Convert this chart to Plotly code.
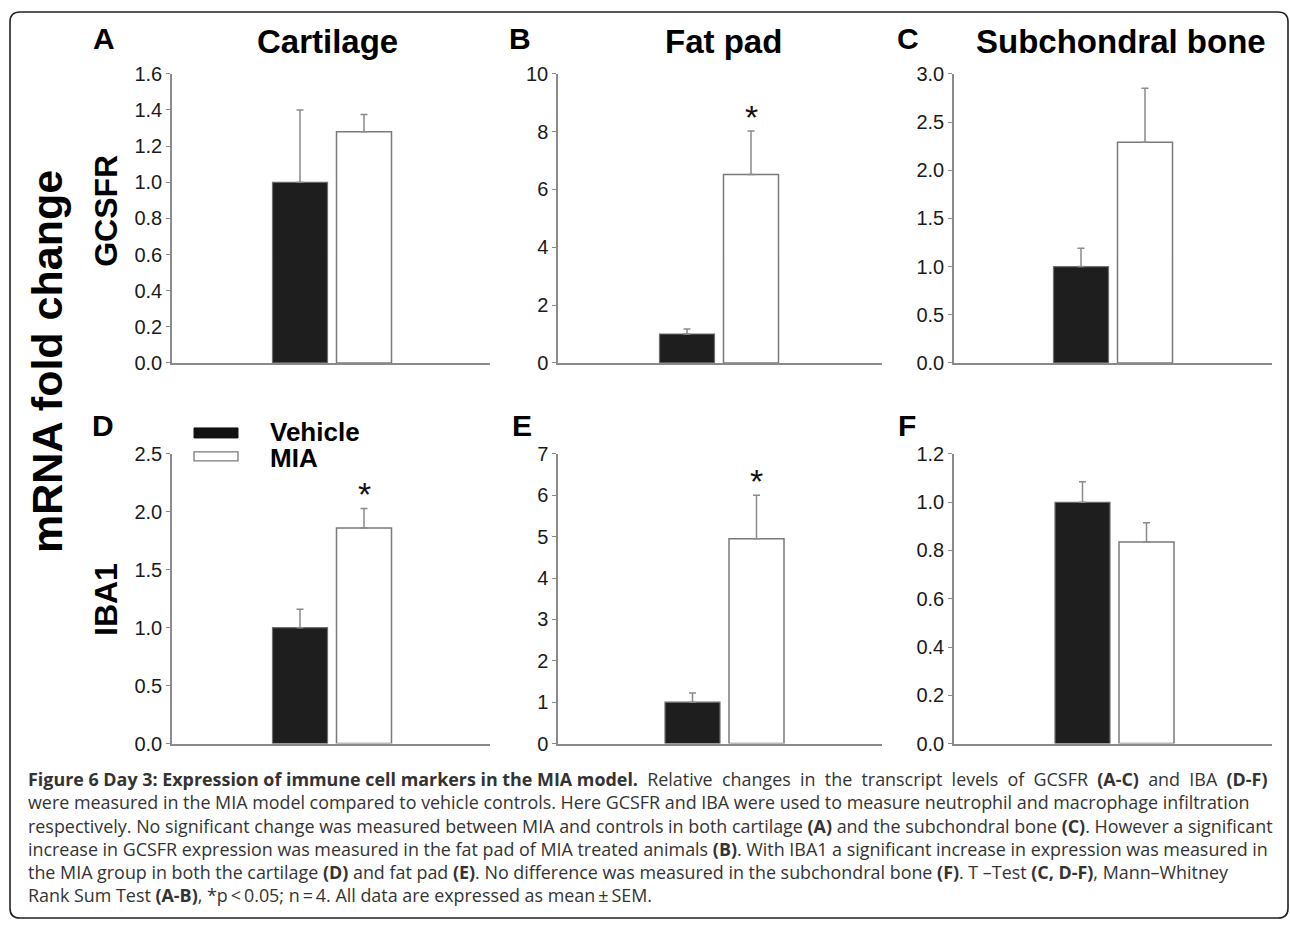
import plotly.graph_objects as go

# ---------------- data ----------------
groups = ["Vehicle", "MIA"]
tissues = ["Cartilage", "Fat pad", "Subchondral bone"]
markers = ["GCSFR", "IBA1"]
panel_letters = [["A", "B", "C"], ["D", "E", "F"]]

gcsfr_vehicle = [1.00, 1.00, 1.00]
gcsfr_vehicle_sem = [0.40, 0.17, 0.19]
gcsfr_mia = [1.28, 6.52, 2.29]
gcsfr_mia_sem = [0.095, 1.50, 0.56]
gcsfr_sig = [False, True, False]

iba1_vehicle = [1.00, 1.00, 1.00]
iba1_vehicle_sem = [0.16, 0.22, 0.085]
iba1_mia = [1.86, 4.95, 0.835]
iba1_mia_sem = [0.17, 1.05, 0.08]
iba1_sig = [True, True, False]

gcsfr_ymax = [1.6, 10, 3.0]
gcsfr_dtick = [0.2, 2, 0.5]
iba1_ymax = [2.5, 7, 1.2]
iba1_dtick = [0.5, 1, 0.2]
tick_formats = [".1f", "d", ".1f"]

caption_title = "Figure 6 Day 3: Expression of immune cell markers in the MIA model."
caption_line1 = "Relative changes in the transcript levels of GCSFR <b>(A-C)</b> and IBA <b>(D-F)</b>"
caption_rest = [
    "were measured in the MIA model compared to vehicle controls. Here GCSFR and IBA were used to measure neutrophil and macrophage infiltration",
    "respectively. No significant change was measured between MIA and controls in both cartilage <b>(A)</b> and the subchondral bone <b>(C)</b>. However a significant",
    "increase in GCSFR expression was measured in the fat pad of MIA treated animals <b>(B)</b>. With IBA1 a significant increase in expression was measured in",
    "the MIA group in both the cartilage <b>(D)</b> and fat pad <b>(E)</b>. No difference was measured in the subchondral bone <b>(F)</b>. T \u2013Test <b>(C, D-F)</b>, Mann\u2013Whitney",
    "Rank Sum Test <b>(A-B)</b>, *p\u2009<\u20090.05; n\u2009=\u20094. All data are expressed as mean\u2009\u00b1\u2009SEM.",
]

# ---------------- geometry (pixels) ----------------
W, H = 1290, 930
SY, OY = 0.976, 10.2      # vertical calibration of the rendered page

def px(x):
    return x / W

def py(y):
    return 1 - ((y - OY) / SY) / H

def py_raw(y):
    return 1 - y / H

col_axis = [(172, 490), (558, 882), (954, 1272)]
row_axis = [(73, 362), (453, 742.5)]          # top, bottom (pixel y)
black_center = [[300, 687, 1081], [300, 692.5, 1082.5]]
unit = 64.0
bar_w = 55.0

FONT = "Liberation Sans, Arial, Helvetica, sans-serif"
AXC = "#8a8a8a"

fig = go.Figure()
annotations = []
shapes = []

rows = [
    (gcsfr_vehicle, gcsfr_vehicle_sem, gcsfr_mia, gcsfr_mia_sem, gcsfr_sig, gcsfr_ymax, gcsfr_dtick),
    (iba1_vehicle, iba1_vehicle_sem, iba1_mia, iba1_mia_sem, iba1_sig, iba1_ymax, iba1_dtick),
]

k = 0
for r, (veh, veh_s, mia, mia_s, sig, ymax, dtick) in enumerate(rows):
    for c in range(3):
        k += 1
        xa = "x" if k == 1 else f"x{k}"
        ya = "y" if k == 1 else f"y{k}"
        L, R = col_axis[c]
        c0 = black_center[r][c]
        top, bot = row_axis[r]
        fig.add_trace(go.Bar(
            x=[groups[0]], y=[veh[c]], xaxis=xa, yaxis=ya, width=bar_w / unit,
            marker=dict(color="#1e1e1e", line=dict(color="#6e6e6e", width=1.2)),
            error_y=dict(type="data", symmetric=False, array=[veh_s[c]], arrayminus=[0],
                         color="#8a8a8a", thickness=1.5, width=3.5),
            showlegend=False, hoverinfo="skip"))
        fig.add_trace(go.Bar(
            x=[groups[1]], y=[mia[c]], xaxis=xa, yaxis=ya, width=bar_w / unit,
            marker=dict(color="#ffffff", line=dict(color="#7a7a7a", width=1.5)),
            error_y=dict(type="data", symmetric=False, array=[mia_s[c]], arrayminus=[0],
                         color="#8a8a8a", thickness=1.5, width=3.5),
            showlegend=False, hoverinfo="skip"))
        xkey = "xaxis" if k == 1 else f"xaxis{k}"
        ykey = "yaxis" if k == 1 else f"yaxis{k}"
        fig.layout[xkey] = dict(
            domain=[px(L), px(R)], anchor=ya, type="category",
            categoryorder="array", categoryarray=groups,
            range=[(L - c0) / unit, (R - c0) / unit],
            showline=True, linecolor=AXC, linewidth=1.5,
            showticklabels=False, ticks="", showgrid=False, zeroline=False, fixedrange=True)
        fig.layout[ykey] = dict(
            domain=[py(bot), py(top)], anchor=xa, range=[0, ymax[c]],
            dtick=dtick[c], tick0=0, tickformat=tick_formats[c],
            showline=True, linecolor=AXC, linewidth=1.5,
            ticks="outside", ticklen=4, tickwidth=1.2, tickcolor=AXC,
            tickfont=dict(family=FONT, size=20, color="#1a1a1a"),
            showgrid=False, zeroline=False, fixedrange=True)
        if sig[c]:
            annotations.append(dict(
                x=groups[1], y=mia[c] + mia_s[c], xref=xa, yref=ya,
                text="*", showarrow=False, yanchor="middle", yshift=14,
                font=dict(family=FONT, size=34, color="#111111")))

# panel letters and tissue titles
letter_pos = [[(104, 38), (520, 38), (908, 38)], [(103, 425), (522, 425), (907, 425)]]
for r in range(2):
    for c in range(3):
        x, y = letter_pos[r][c]
        annotations.append(dict(x=px(x), y=py(y), xref="paper", yref="paper",
                                text=f"<b>{panel_letters[r][c]}</b>", showarrow=False,
                                xanchor="center", yanchor="middle",
                                font=dict(family=FONT, size=30, color="#000000")))
title_x = [327, 723, 1121]
for c in range(3):
    annotations.append(dict(x=px(title_x[c]), y=py(41), xref="paper", yref="paper",
                            text=f"<b>{tissues[c]}</b>", showarrow=False,
                            xanchor="center", yanchor="middle",
                            font=dict(family=FONT, size=33, color="#000000")))

# row labels
row_label_y = [210, 599]
for r in range(2):
    annotations.append(dict(x=px(106), y=py(row_label_y[r]), xref="paper", yref="paper",
                            text=f"<b>{markers[r]}</b>", showarrow=False, textangle=-90,
                            xanchor="center", yanchor="middle",
                            font=dict(family=FONT, size=32, color="#000000")))
annotations.append(dict(x=px(47), y=py(361), xref="paper", yref="paper",
                        text="<b>mRNA fold change</b>", showarrow=False, textangle=-90,
                        xanchor="center", yanchor="middle",
                        font=dict(family=FONT, size=43, color="#000000")))

# legend (custom drawn swatches)
shapes.append(dict(type="rect", xref="paper", yref="paper",
                   x0=px(194), x1=px(238), y0=py(437), y1=py(427),
                   fillcolor="#111111", line=dict(color="#111111", width=1)))
shapes.append(dict(type="rect", xref="paper", yref="paper",
                   x0=px(194), x1=px(238), y0=py(460), y1=py(451),
                   fillcolor="#ffffff", line=dict(color="#7a7a7a", width=1.3)))
annotations.append(dict(x=px(268), y=py(431), xref="paper", yref="paper",
                        text=f"<b>{groups[0]}</b>", showarrow=False,
                        xanchor="left", yanchor="middle",
                        font=dict(family=FONT, size=26, color="#000000")))
annotations.append(dict(x=px(268), y=py(457), xref="paper", yref="paper",
                        text=f"<b>{groups[1]}</b>", showarrow=False,
                        xanchor="left", yanchor="middle",
                        font=dict(family=FONT, size=26, color="#000000")))

# caption (one multi-line text block; first line slightly spread like the justified original)
CAP_FONT = "Open Sans, Noto Sans, sans-serif"
wide_line1 = caption_line1.replace(" ", "\u00a0 ")
caption_text = (f"<b>{caption_title}</b>\u00a0 {wide_line1}<br>" + "<br>".join(caption_rest))
annotations.append(dict(x=px(26), y=py(836), xref="paper", yref="paper",
                        text=caption_text, showarrow=False, xanchor="left", yanchor="middle",
                        align="left",
                        font=dict(family=CAP_FONT, size=17.9, color="#333333")))

# rounded frame
x0, x1, y0, y1, rr = px(10), px(1288), py_raw(929), py_raw(1), 10
rx, ry = rr / W, rr / H
path = (f"M {x0+rx},{y1} L {x1-rx},{y1} Q {x1},{y1} {x1},{y1-ry} "
        f"L {x1},{y0+ry} Q {x1},{y0} {x1-rx},{y0} L {x0+rx},{y0} "
        f"Q {x0},{y0} {x0},{y0+ry} L {x0},{y1-ry} Q {x0},{y1} {x0+rx},{y1} Z")
shapes.append(dict(type="path", xref="paper", yref="paper", path=path,
                   line=dict(color="#222222", width=1.6)))

fig.update_layout(
    width=W, height=H, margin=dict(l=0, r=0, t=0, b=0),
    paper_bgcolor="#ffffff", plot_bgcolor="#ffffff",
    barmode="overlay", showlegend=False,
    annotations=annotations, shapes=shapes,
    font=dict(family=FONT),
)

fig.write_html("out.html", config={"displayModeBar": False},
               post_script="document.body.style.margin='0';document.body.style.padding='0';")
